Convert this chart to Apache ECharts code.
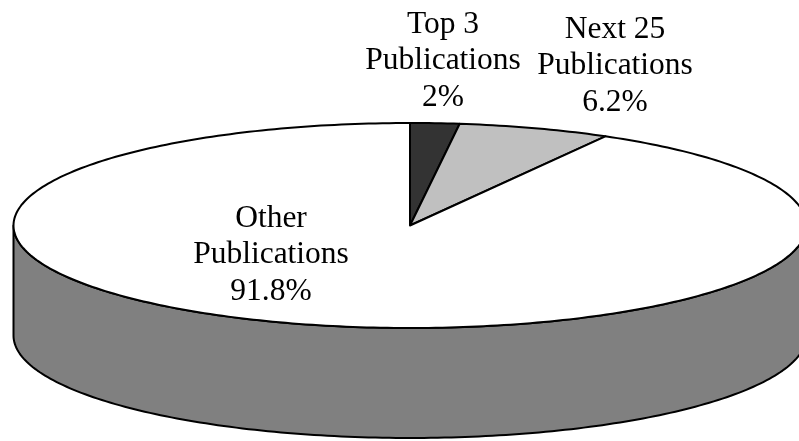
<!DOCTYPE html>
<html>
<head>
<meta charset="utf-8">
<title>Publications pie</title>
<script src="https://cdn.jsdelivr.net/npm/echarts@6/dist/echarts.min.js"></script>
<style>
html, body { margin: 0; padding: 0; background: #fff; }
#main { width: 799px; height: 441px; }
</style>
</head>
<body>
<div id="main"></div>
<script>
// data
const categories = ['Top 3\nPublications', 'Next 25\nPublications', 'Other\nPublications'];
const shares = [2, 6.2, 91.8];
const sliceColors = ['#333333', '#c0c0c0', '#ffffff'];
const labelAnchors = [[443, 61], [615, 66], [271, 255]];

// ellipse of the pie's top face
const cx = 410, cy = 225.5, rx = 396.5, ry = 102.5, depth = 110;
const total = shares.reduce((a, b) => a + b, 0);

// angle is clockwise from 12 o'clock
function rim(deg, drop) {
    const a = deg * Math.PI / 180;
    return [cx + rx * Math.sin(a), cy - ry * Math.cos(a) + drop];
}

function arc(from, to, drop) {
    const pts = [];
    const steps = Math.max(2, Math.ceil(Math.abs(to - from)));
    for (let i = 0; i <= steps; i++) {
        pts.push(rim(from + (to - from) * i / steps, drop));
    }
    return pts;
}

function sliceAngles(index) {
    let before = 0;
    for (let i = 0; i < index; i++) before += shares[i];
    return [before / total * 360, (before + shares[index]) / total * 360];
}

const line = { stroke: '#000', lineWidth: 2, lineJoin: 'round' };

// side wall, only the front half of the rim is visible
function renderWall(params, api) {
    const [start, end] = sliceAngles(params.dataIndex);
    const from = Math.max(start, 90), to = Math.min(end, 270);
    if (from >= to) return { type: 'group', children: [] };
    const points = arc(from, to, 0).concat(arc(to, from, depth));
    return {
        type: 'polygon',
        shape: { points: points },
        style: Object.assign({ fill: '#808080' }, line)
    };
}

function renderSlice(params, api) {
    const [start, end] = sliceAngles(params.dataIndex);
    const points = [[cx, cy]].concat(arc(start, end, 0));
    return {
        type: 'polygon',
        shape: { points: points },
        style: Object.assign({ fill: sliceColors[params.dataIndex] }, line)
    };
}

function renderLabel(params, api) {
    const i = params.dataIndex;
    return {
        type: 'text',
        x: labelAnchors[i][0],
        y: labelAnchors[i][1],
        style: {
            text: categories[i] + '\n' + api.value(0) + '%',
            fill: '#000',
            font: '31.5px "Liberation Serif", "Times New Roman", serif',
            lineHeight: 36.5,
            align: 'center',
            verticalAlign: 'middle'
        }
    };
}

const chart = echarts.init(document.getElementById('main'), null, { renderer: 'canvas' });

chart.setOption({
    backgroundColor: '#ffffff',
    animation: false,
    series: [
        { type: 'custom', coordinateSystem: 'none', silent: true, data: shares, renderItem: renderWall, z: 1 },
        { type: 'custom', coordinateSystem: 'none', silent: true, data: shares, renderItem: renderSlice, z: 2 },
        { type: 'custom', coordinateSystem: 'none', silent: true, data: shares, renderItem: renderLabel, z: 3 }
    ]
});
</script>
</body>
</html>
